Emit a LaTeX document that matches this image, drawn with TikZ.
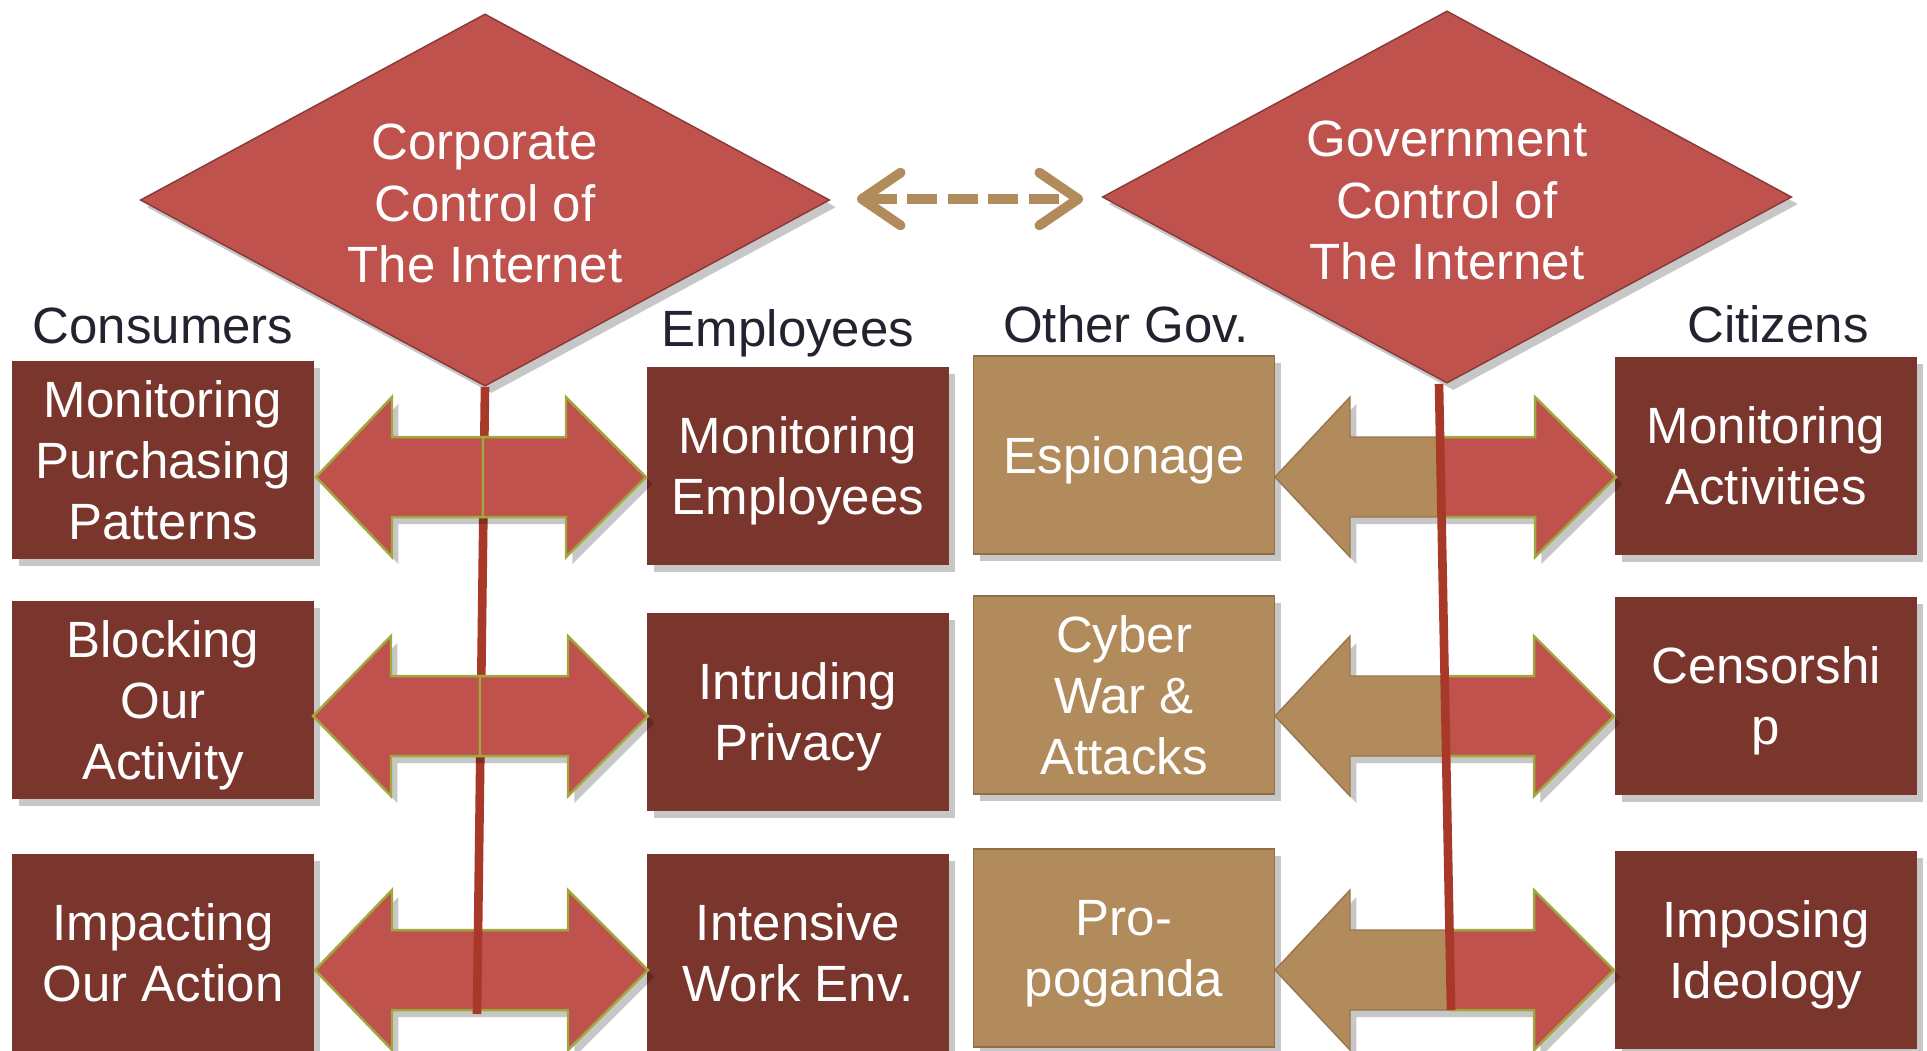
\documentclass[tikz,border=0pt]{standalone}
\usepackage{fontspec}
\setmainfont{Liberation Sans}
\usetikzlibrary{shapes.geometric,arrows.meta,shadows,calc}
\definecolor{boxred}{RGB}{122,53,44}
\definecolor{diared}{RGB}{192,82,78}
\definecolor{tanc}{RGB}{178,139,92}
\definecolor{olivec}{RGB}{160,168,62}
\definecolor{linered}{RGB}{168,56,40}
\definecolor{hdr}{RGB}{35,35,48}
\newcommand{\myarrowhalf}[5]{%
  \path[#5] (#1,#4) -- (#2,#4-80) -- (#2,#4-40) -- (#3,#4-40) -- (#3,#4+40) -- (#2,#4+40) -- (#2,#4+80) -- cycle;}
% lower a centred block of lines by #1 without changing its size
\newcommand{\lowtxt}[2]{\raisebox{#1}[\height][\depth]{\begin{tabular}{@{}c@{}}#2\end{tabular}}}
\tikzset{
  txt/.style={font=\fontsize{14.5}{17.4}\selectfont, align=center},
  shad/.style={drop shadow={shadow xshift=1.8pt, shadow yshift=-2pt, opacity=0.22, fill=black}},
  box/.style={rectangle, minimum width=3.01cm, minimum height=1.98cm, inner sep=0pt, txt, text=white, shad},
  redbox/.style={box, fill=boxred},
  tanbox/.style={box, fill=tanc, draw=tanc!80!black, line width=0.5pt},
  dia/.style={diamond, aspect=1.85, minimum width=6.89cm, minimum height=3.72cm, inner sep=0pt,
    fill=diared, draw=diared!70!black, line width=0.4pt, txt, text=white, shad},
  hdrtxt/.style={txt, text=hdr, anchor=base, inner sep=0pt},
  redarrow/.style={fill=diared, draw=olivec, line width=0.7pt, line join=miter, shad},
  tanarrow/.style={fill=tanc, draw=tanc!85!black, line width=0.4pt, shad},
  stem/.style={draw=linered, line width=2.45pt},
  dasharrow/.style={draw=tanc, line width=2.8pt, dash pattern=on 8.5pt off 3pt,
    {Straight Barb[round,length=11pt,width=15pt]}-{Straight Barb[round,length=11pt,width=15pt]}}
}
\begin{document}
\begin{tikzpicture}[x=0.01cm,y=-0.01cm]
\useasboundingbox (0,0) rectangle (1927,1050);
\clip (0,0) rectangle (1927,1050);

% diamonds
\node[dia] (corp) at (485,200) {\lowtxt{-2.5pt}{Corporate\\Control of\\The Internet}};
\node[dia] (gov) at (1447,197) {\lowtxt{-2.5pt}{Government\\Control of\\The Internet}};

% headers
\node[hdrtxt] (hcons) at (163,343) {Consumers};
\node[hdrtxt] (hemp) at (788,346) {Employees};
\node[hdrtxt] (hoth) at (1126,342) {Other Gov.};
\node[hdrtxt] (hcit) at (1778,342) {Citizens};

% column 1
\node[redbox] (c11) at (163,460) {\lowtxt{-1.7pt}{Monitoring\\Purchasing\\Patterns}};
\node[redbox] (c12) at (163,700) {\lowtxt{-1.7pt}{Blocking\\Our\\Activity}};
\node[redbox] (c13) at (163,953) {\lowtxt{-1.7pt}{Impacting\\Our Action}};
% column 2
\node[redbox] (c21) at (798,466) {\lowtxt{-1.7pt}{Monitoring\\Employees}};
\node[redbox] (c22) at (798,712) {\lowtxt{-1.7pt}{Intruding\\Privacy}};
\node[redbox] (c23) at (798,953) {\lowtxt{-1.7pt}{Intensive\\Work Env.}};
% column 3
\node[tanbox] (c31) at (1124,455) {\lowtxt{-1.7pt}{Espionage}};
\node[tanbox] (c32) at (1124,695) {\lowtxt{-1.7pt}{Cyber\\War \&\\Attacks}};
\node[tanbox] (c33) at (1124,948) {\lowtxt{-1.7pt}{Pro-\\poganda}};
% column 4
\node[redbox] (c41) at (1766,456) {\lowtxt{-1.7pt}{Monitoring\\Activities}};
\node[redbox] (c42) at (1766,696) {\lowtxt{-1.7pt}{Censorshi\\p}};
\node[redbox] (c43) at (1766,950) {\lowtxt{-1.7pt}{Imposing\\Ideology}};

% dashed double arrow between diamonds
\coordinate (dl) at (857,199);
\coordinate (dr) at (1083,199);
\draw[dasharrow, shad] (dl) -- (dr);

% right side arrows (stem on top)
\myarrowhalf{1275}{1350}{1441}{477}{tanarrow}
\myarrowhalf{1616}{1535}{1441}{477}{redarrow}
\myarrowhalf{1275}{1350}{1445}{716}{tanarrow}
\myarrowhalf{1614}{1534}{1445}{716}{redarrow}
\myarrowhalf{1275}{1350}{1450}{970}{tanarrow}
\myarrowhalf{1614}{1534}{1450}{970}{redarrow}

% left row 3 (stem on top)
\myarrowhalf{315}{392}{476}{970}{redarrow}
\myarrowhalf{648}{568}{476}{970}{redarrow}

% stems
\coordinate (lend) at (477,1014);
\coordinate (rend) at (1451,1010);
\draw[stem] (corp.south) -- (lend);
\draw[stem] ($(gov.south)+(-8,0)$) -- (rend);

% left rows 1 and 2 (on top of stem)
\myarrowhalf{316}{392}{483}{477}{redarrow}
\myarrowhalf{646}{566}{483}{477}{redarrow}
\myarrowhalf{313}{391}{480}{716}{redarrow}
\myarrowhalf{648}{568}{480}{716}{redarrow}
\end{tikzpicture}
\end{document}
